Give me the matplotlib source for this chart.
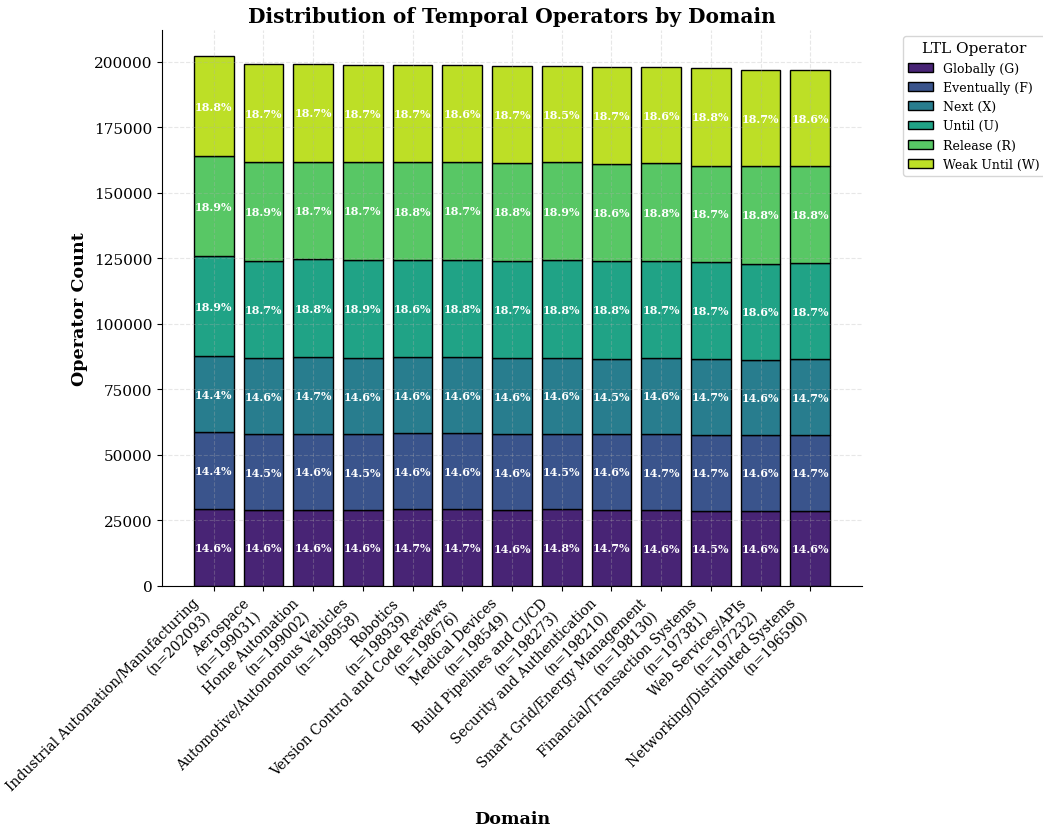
import numpy as np
import matplotlib
matplotlib.use('Agg')
import matplotlib.pyplot as plt

plt.rcParams['font.family'] = 'DejaVu Serif'

# domaines et nombre total d'opérateurs (n)
domains = ['Industrial Automation/Manufacturing', 'Aerospace', 'Home Automation',
           'Automotive/Autonomous Vehicles', 'Robotics', 'Version Control and Code Reviews',
           'Medical Devices', 'Build Pipelines and CI/CD', 'Security and Authentication',
           'Smart Grid/Energy Management', 'Financial/Transaction Systems',
           'Web Services/APIs', 'Networking/Distributed Systems']
totals = [202093, 199031, 199002, 198958, 198939, 198676, 198549,
          198273, 198210, 198130, 197381, 197232, 196590]

operators = ['Globally (G)', 'Eventually (F)', 'Next (X)', 'Until (U)',
             'Release (R)', 'Weak Until (W)']

# pourcentages, un tableau par opérateur
pct_G = [14.6, 14.6, 14.6, 14.6, 14.7, 14.7, 14.6, 14.8, 14.7, 14.6, 14.5, 14.6, 14.6]
pct_F = [14.4, 14.5, 14.6, 14.5, 14.6, 14.6, 14.6, 14.5, 14.6, 14.7, 14.7, 14.6, 14.7]
pct_X = [14.4, 14.6, 14.7, 14.6, 14.6, 14.6, 14.6, 14.6, 14.5, 14.6, 14.7, 14.6, 14.7]
pct_U = [18.9, 18.7, 18.8, 18.9, 18.6, 18.8, 18.7, 18.8, 18.8, 18.7, 18.7, 18.6, 18.7]
pct_R = [18.9, 18.9, 18.7, 18.7, 18.8, 18.7, 18.8, 18.9, 18.6, 18.8, 18.7, 18.8, 18.8]
pct_W = [18.8, 18.7, 18.7, 18.7, 18.7, 18.6, 18.7, 18.5, 18.7, 18.6, 18.8, 18.7, 18.6]
pcts = [pct_G, pct_F, pct_X, pct_U, pct_R, pct_W]

colors = plt.cm.viridis(np.linspace(0.1, 0.9, len(operators)))

fig = plt.figure(figsize=(10.43, 8.28), dpi=100)
ax = fig.add_axes([162 / 1043, 241 / 828, 700 / 1043, 556 / 828])

x = np.arange(len(domains))
tot = np.array(totals, dtype=float)
bottom = np.zeros(len(domains))
for op, pc, col in zip(operators, pcts, colors):
    vals = tot * np.array(pc) / 100
    ax.bar(x, vals, 0.8, bottom=bottom, color=col, edgecolor='black',
           linewidth=1, label=op)
    # pourcentage au milieu de chaque segment
    for xi, b, v, p in zip(x, bottom, vals, pc):
        ax.text(xi, b + v / 2, f'{p:.1f}%', ha='center', va='center',
                color='white', fontsize=8, fontweight='bold')
    bottom += vals

ax.set_ylim(0, max(totals) * 1.05)
ax.set_xticks(x)
ax.set_xticklabels([f'{d}\n(n={n})' for d, n in zip(domains, totals)],
                   rotation=45, ha='right', fontsize=10)
ax.tick_params(axis='y', labelsize=11)

ax.set_title('Distribution of Temporal Operators by Domain', fontsize=14.5, fontweight='bold')
ax.set_xlabel('Domain', fontsize=12.6, fontweight='bold')
ax.set_ylabel('Operator Count', fontsize=12.6, fontweight='bold')

ax.grid(True, linestyle='--', alpha=0.3)
ax.spines['top'].set_visible(False)
ax.spines['right'].set_visible(False)

ax.legend(title='LTL Operator', bbox_to_anchor=(1.05, 1), loc='upper left',
          fontsize=9, title_fontsize=11)

fig.savefig('out.png', dpi=100)
